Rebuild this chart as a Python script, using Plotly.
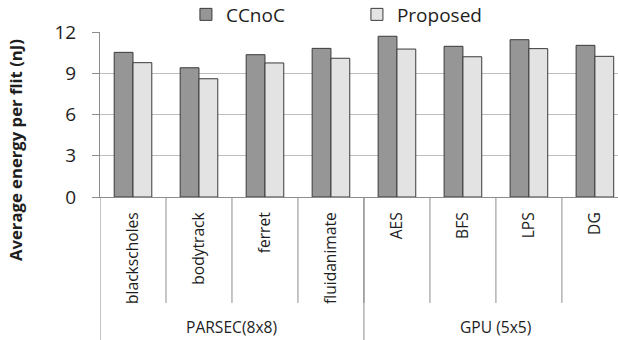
import plotly.graph_objects as go

categories = ["blackscholes", "bodytrack", "ferret", "fluidanimate", "AES", "BFS", "LPS", "DG"]
groups = ["PARSEC(8x8)", "GPU (5x5)"]
group_sizes = [4, 4]
ccnoc = [10.52, 9.40, 10.35, 10.81, 11.69, 10.96, 11.44, 11.03]
proposed = [9.77, 8.60, 9.75, 10.09, 10.76, 10.20, 10.79, 10.23]
y_ticks = [0, 3, 6, 9, 12]

FONT = "'Open Sans', sans-serif"
TXT = "#1e1e1e"
AXC = "#8c8c8c"

fig = go.Figure()
fig.add_trace(go.Bar(name="CCnoC", x=categories, y=ccnoc,
                     marker=dict(color="#969696", line=dict(color="#3a3a3a", width=1))))
fig.add_trace(go.Bar(name="Proposed", x=categories, y=proposed,
                     marker=dict(color="#e3e3e3", line=dict(color="#3a3a3a", width=1))))

shapes = []
for i in range(1, len(categories)):
    shapes.append(dict(type="line", xref="x", yref="paper", x0=i - 0.5, x1=i - 0.5,
                       y0=0, y1=-0.642, line=dict(color=AXC, width=1)))
pos = 0
annotations = []
for g, n in zip(groups, group_sizes):
    shapes.append(dict(type="line", xref="x", yref="paper", x0=pos - 0.5, x1=pos - 0.5,
                       y0=0, y1=-0.87, line=dict(color=AXC, width=1)))
    annotations.append(dict(text=g, xref="x", yref="paper", x=pos + (n - 1) / 2, y=-0.786,
                            showarrow=False, xanchor="center", yanchor="middle",
                            font=dict(family=FONT, size=15.6, color=TXT)))
    pos += n

annotations.append(dict(text="<b>Average energy per flit (nJ)</b>", textangle=-90,
                        xref="paper", yref="paper", x=-0.162, y=0.285,
                        xanchor="center", yanchor="middle", showarrow=False,
                        font=dict(family=FONT, size=16.7, color=TXT)))

fig.update_layout(
    width=618, height=340,
    margin=dict(l=100, r=0, t=32, b=143, autoexpand=False),
    paper_bgcolor="white", plot_bgcolor="white",
    barmode="group", bargap=0.43, bargroupgap=0,
    font=dict(family=FONT, color=TXT),
    showlegend=True,
    legend=dict(orientation="h", x=0.496, xanchor="center", xref="paper",
                y=1.106, yanchor="middle", yref="paper",
                font=dict(family=FONT, size=19, color=TXT),
                entrywidth=126, entrywidthmode="pixels",
                bgcolor="rgba(0,0,0,0)"),
    xaxis=dict(type="category", range=[-0.5, 7.35], showline=True, linecolor=AXC, linewidth=1,
               ticks="", tickangle=-90, showgrid=False, ticklabelstandoff=8, automargin=False,
               tickfont=dict(family=FONT, size=15.6, color=TXT)),
    yaxis=dict(range=[0, 12], tickvals=y_ticks, showline=True, linecolor=AXC, linewidth=1,
               ticks="outside", ticklen=7, tickcolor=AXC, showgrid=True, gridcolor="#bebebe",
               gridwidth=1, zeroline=False, ticklabelstandoff=12, automargin=False,
               tickfont=dict(family=FONT, size=19, color=TXT)),
    shapes=shapes, annotations=annotations,
)

# remove the browser's default 8px body margin so the 618x340 figure fills the window
fig.write_html("out.html", config={"displayModeBar": False},
               post_script="document.body.style.margin='0';")
